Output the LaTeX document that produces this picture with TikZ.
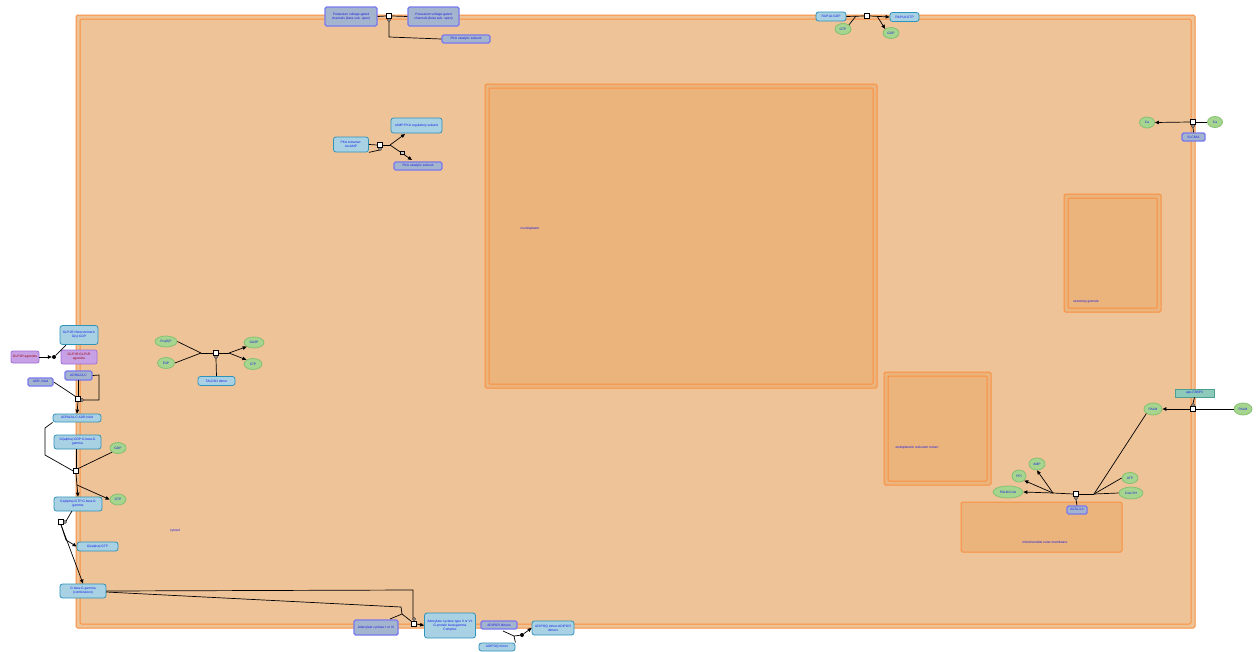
\documentclass[tikz,border=0pt]{standalone}
\usepackage{fontspec}
\setmainfont{Liberation Sans}
\usetikzlibrary{shapes.geometric,arrows.meta,calc}
\definecolor{compb}{HTML}{FA9040}
\definecolor{compf}{HTML}{EFC398}
\definecolor{compf2}{HTML}{EBB47D}
\definecolor{cpxf}{HTML}{A3B5CE}
\definecolor{cpxb}{HTML}{7878EE}
\definecolor{prf}{HTML}{A8D2E4}
\definecolor{prb}{HTML}{2F93BA}
\definecolor{smf}{HTML}{A5D58E}
\definecolor{smb}{HTML}{86C072}
\definecolor{txt}{HTML}{1A1AE6}
\definecolor{puf}{HTML}{C7A0E6}
\definecolor{pub}{HTML}{A06CD6}
\definecolor{tlf}{HTML}{8DCAB9}
\definecolor{tlb}{HTML}{4E9F8F}
\begin{document}
\begin{tikzpicture}[x=1pt,y=-1pt,
  font=\fontsize{3.3}{3.9}\selectfont,
  comp/.style={draw=compb,line width=1pt},
  clabel/.style={text=txt,inner sep=0},
  cpx/.style={rectangle,rounded corners=1.5pt,draw=cpxb,fill=cpxf,line width=1.4pt,align=center,text=txt,inner sep=0.5pt},
  prot/.style={rectangle,rounded corners=2.5pt,draw=prb,fill=prf,line width=0.8pt,align=center,text=txt,inner sep=0.5pt},
  pu/.style={rectangle,rounded corners=2pt,draw=pub,fill=puf,line width=0.8pt,align=center,text=red!60!black,inner sep=0.5pt},
  tl/.style={rectangle,draw=tlb,fill=tlf,line width=0.8pt,align=center,text=txt,inner sep=0.5pt},
  sm/.style={ellipse,draw=smb,fill=smf,line width=0.8pt,text=txt,inner sep=0.3pt,minimum width=16,minimum height=11},
  pn/.style={rectangle,draw=black,fill=white,line width=0.5pt,minimum size=5,inner sep=0},
  dotn/.style={circle,fill=black,minimum size=4,inner sep=0},
  cat/.style={circle,draw=black,fill=white,line width=0.4pt,minimum size=3,inner sep=0},
  ln/.style={line width=0.7pt},
  arr/.style={line width=0.7pt,-{Triangle[length=4pt,width=3.5pt]}}]
\useasboundingbox (0,0) rectangle (1258,651);
\fill[white] (0,0) rectangle (1258,651);
% compartments
\draw[comp,fill=compf,rounded corners=1.5pt] (76,15) rectangle (1195,628);
\draw[comp,rounded corners=1.5pt] (80,19) rectangle (1191,624);
\draw[comp,fill=compf2,rounded corners=1.5pt] (485,84) rectangle (877,388);
\draw[comp,rounded corners=1pt] (489,88) rectangle (873,384);
\draw[comp,fill=compf2,rounded corners=1.5pt] (1064,194) rectangle (1161,312);
\draw[comp,rounded corners=1pt] (1068,198) rectangle (1157,308);
\draw[comp,fill=compf2,rounded corners=1.5pt] (884,372) rectangle (991,485);
\draw[comp,rounded corners=1pt] (888,376) rectangle (987,481);
\draw[comp,fill=compf2,rounded corners=1.5pt] (961,502) rectangle (1122,552);
\node[clabel] (lnuc) at (530,229) {nucleoplasm};
\node[clabel] (lsec) at (1086,302) {secretory granule};
\node[clabel] (ler) at (917,448) {endoplasmic reticulum lumen};
\node[clabel] (lmit) at (1045,542) {mitochondrial outer membrane};
\node[clabel] (lcyt) at (175,531) {cytosol};
% top: potassium channels
\node[cpx,minimum width=52,minimum height=19] (kv1) at (351,16.5) {Potassium voltage-gated\\channels (beta sub. open)};
\node[cpx,minimum width=51,minimum height=19] (kv2) at (433.5,16.5) {Potassium voltage-gated\\channels (beta sub. open)};
\node[pn] (r1) at (389,16) {};
\node[cpx,minimum width=48,minimum height=8] (pkac1) at (466,39) {PKA catalytic subunit};
\draw[ln] (kv1.east) -- (r1.west);
\draw[ln] (r1.east) -- (kv2.west);
\node[cat] (c1) at (389,20) {};
\draw[ln] (pkac1.west) -- (389,37) -- (c1.south);
% RAP1A
\node[prot,minimum width=30,minimum height=9] (rapgdp) at (831,16.5) {RAP1A:GDP};
\node[sm] (gtp1) at (843,29) {GTP};
\node[pn] (r2) at (867,16) {};
\node[prot,minimum width=29,minimum height=9] (rapgtp) at (904.5,17) {RAP1A:GTP};
\node[sm] (gdp1) at (891,33) {GDP};
\coordinate (j2) at (856,16);
\coordinate (b2) at (877,16);
\draw[ln] (rapgdp.east) -- (r2.west);
\draw[ln] (gtp1.north east) -- (j2);
\draw[arr] (r2.east) -- (rapgtp.west);
\draw[arr] (b2) -- (gdp1.north west);
% Ca transport
\node[sm,minimum width=15] (ca1) at (1147,122.5) {Ca};
\node[sm,minimum width=15] (ca2) at (1215,122) {Ca};
\node[pn] (r3) at (1193,122) {};
\node[cpx,minimum width=23,minimum height=8] (slc) at (1193.5,137) {SLC8A1};
\draw[ln] (ca2.west) -- (r3.east);
\draw[arr] (r3.west) -- (ca1.east);
\node[cat] (c3) at (1193,126) {};
\draw[ln] (slc.north) -- (c3.south);
% PKA
\node[prot,minimum width=35,minimum height=15] (pka4) at (351,144.5) {PKA tetramer:\\4xcAMP};
\node[pn] (r4) at (380,145) {};
\node[prot,minimum width=51,minimum height=15] (camp) at (416.5,125.5) {cAMP:PKA regulatory subunit};
\node[cpx,minimum width=48,minimum height=8] (pkac2) at (418,166) {PKA catalytic subunit};
\coordinate (b4) at (390,145);
\draw[ln] (pka4.east) -- (r4.west);
\draw[ln] (r4.east) -- (b4);
\draw[arr] (b4) -- (405,134);
\draw[arr] (b4) -- (412,160);
\node[rectangle,draw=black,fill=gray!40,minimum size=3.5,inner sep=0] (m4) at (402,152.5) {};
\node[cat] (c4) at (380,149) {};
\draw[ln] (pka4.south east) -- (c4.south west);
% GLP1R
\node[prot,minimum width=38,minimum height=19] (glp1r) at (79,335) {GLP1R:Heterotrimeric\\G(s):GDP};
\node[pu,minimum width=28,minimum height=12] (glpag) at (25,357) {GLP1R agonists};
\node[pu,minimum width=36,minimum height=14] (glpc) at (79,357) {GLP1R:GLP1R\\agonists};
\node[dotn] (d1) at (54,357) {};
\draw[arr] (glpag.east) -- (d1.west);
\draw[ln] (d1) -- (66,345);
% ADRA2
\node[cpx,minimum width=27,minimum height=9] (adra) at (78.5,375.5) {ADRA2A,C};
\node[cpx,minimum width=25,minimum height=8] (adr) at (40.5,382) {ADR, NAd};
\node[pn] (r5) at (78,399) {};
\node[prot,minimum width=48,minimum height=8] (adrac) at (77,418) {ADRA2A,C:ADR,NAd};
\draw[ln] (78,380) -- (r5.north);
\draw[ln] (adr.east) -- (r5.north west);
\node[cat] (c5) at (82,400) {};
\draw[ln] (adra.east) -- (99,375) -- (99,400) -- (c5.east);
\draw[arr] (r5.south) -- (adrac.north);
% Gi activation
\node[prot,minimum width=47,minimum height=14] (gigdp) at (77.5,442) {Gi(alpha):GDP:G beta:G\\gamma};
\node[sm] (gdp2) at (118,448) {GDP};
\node[pn] (r6) at (76,471) {};
\node[sm] (gtp2) at (118,499.5) {GTP};
\node[prot,minimum width=48,minimum height=14] (gigtp) at (78,504) {Gi(alpha):GTP:G beta:G\\gamma};
\draw[ln] (adrac.south west) -- (45,428) -- (45,455) -- (r6.west);
\draw[ln] (76,449) -- (r6.north);
\draw[ln] (r6.north east) -- (gdp2.south west);
\draw[arr] (r6.south) -- (gigtp.north);
\coordinate (b6) at (77,485);
\draw[arr] (b6) -- (gtp2.west);
% dissociation
\node[pn] (r7) at (61,522) {};
\node[cat] (c7) at (65,522) {};
\node[prot,minimum width=41,minimum height=9] (giagtp) at (97.5,546.5) {Gi(alpha):GTP};
\node[prot,minimum width=46,minimum height=14] (gbg) at (83,591) {G beta:G gamma\\(combination)};
\draw[ln] (72,511) -- (c7.north east);
\coordinate (b7) at (66,540);
\draw[ln] (r7.south) -- (b7);
\draw[arr] (b7) -- (giagtp.west);
\draw[arr] (r7.south) -- (gbg.north);
% adenylate cyclase
\node[cpx,minimum width=44,minimum height=15] (ac) at (376,627.5) {Adenylate cyclase I or VI};
\node[pn] (r8) at (414,624) {};
\node[prot,minimum width=51,minimum height=25] (acc) at (450,625.5) {Adenylate cyclase type II or VI:\\G-protein beta:gamma\\Complex};
\node[cat] (c8) at (414,619) {};
\coordinate (j8) at (402,614);
\draw[ln] (gbg.east) -- (413,590) -- (413,617.5);
\draw[ln] (106,592) -- (401,607) -- (j8);
\draw[ln] (390,619) -- (j8) -- (r8.north west);
\draw[arr] (r8.east) -- (acc.west);
% ADIPOQ
\node[cpx,minimum width=36,minimum height=8] (adipor) at (499,625) {ADIPOR dimers};
\node[prot,minimum width=36,minimum height=8] (adipoq) at (497,647) {ADIPOQ trimer};
\node[dotn] (d2) at (522,635) {};
\node[prot,minimum width=42,minimum height=14] (adpc) at (553,628) {ADIPOQ trimer:ADIPOR\\dimers};
\coordinate (j9) at (514,636);
\draw[ln] (503,631) -- (j9);
\draw[ln] (adipoq.north east) -- (j9) -- (d2);
\draw[arr] (d2) -- (adpc.west);
% TALDO1
\node[sm,minimum width=22] (f6p) at (166,341.5) {Fru(6)P};
\node[sm,minimum width=17] (e4p) at (166,363) {E4P};
\node[pn] (r10) at (216,353) {};
\node[sm,minimum width=20] (ga3p) at (254,342.5) {GA3P};
\node[sm,minimum width=18] (s7p) at (253,364) {S7P};
\node[prot,minimum width=37,minimum height=9] (taldo) at (216.5,381) {TALDO1 dimer};
\coordinate (j10) at (201,353);
\coordinate (b10) at (229,353);
\draw[ln] (f6p.east) -- (j10);
\draw[ln] (e4p.east) -- (j10);
\draw[ln] (j10) -- (r10.west);
\draw[ln] (r10.east) -- (b10);
\draw[arr] (b10) -- (ga3p.south west);
\draw[arr] (b10) -- (s7p.north west);
\node[cat] (c10) at (216,357) {};
\draw[ln] (taldo.north) -- (c10.south);
% PALM transport
\node[sm,minimum width=18,minimum height=12] (palm1) at (1243,409) {PALM};
\node[sm,minimum width=18,minimum height=12] (palm2) at (1153,409) {PALM};
\node[pn] (r11) at (1193,409) {};
\node[tl,minimum width=39,minimum height=8] (fabp) at (1194.5,393) {apo-FABP3};
\draw[ln] (palm1.west) -- (r11.east);
\draw[arr] (r11.west) -- (palm2.east);
\node[cat] (c11) at (1193,405) {};
\draw[ln] (fabp.south) -- (c11.north);
% ACSL
\node[sm] (atp3) at (1130,478) {ATP};
\node[sm,minimum width=24,minimum height=12] (coa) at (1131,493) {CoA-SH};
\node[pn] (r12) at (1076,494) {};
\node[sm,minimum width=30,minimum height=12] (palmcoa) at (1008,492) {PALM-CoA};
\node[sm,minimum width=14,minimum height=12] (ppi) at (1019,476) {PPi};
\node[sm,minimum width=16,minimum height=12] (amp) at (1037,464) {AMP};
\node[cpx,minimum width=20,minimum height=8] (acsl) at (1077,510) {ACSL3,4};
\coordinate (j12) at (1094,494);
\coordinate (b12) at (1053,493);
\draw[ln] (palm2.south west) -- (j12);
\draw[ln] (atp3.west) -- (j12);
\draw[ln] (coa.west) -- (j12);
\draw[ln] (j12) -- (r12.east);
\draw[ln] (r12.west) -- (b12);
\draw[arr] (b12) -- (palmcoa.east);
\draw[arr] (b12) -- (ppi.south east);
\draw[arr] (b12) -- (amp.south);
\node[cat] (c12) at (1076,498) {};
\draw[ln] (acsl.north) -- (c12.south);
\end{tikzpicture}
\end{document}
